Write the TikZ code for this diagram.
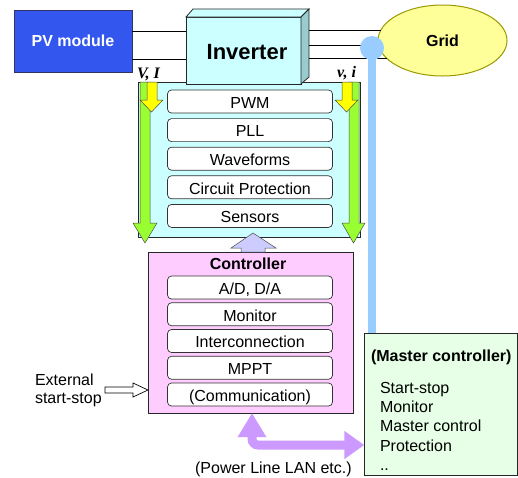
\documentclass[tikz,border=0pt]{standalone}
\usepackage{fontspec}
\setmainfont{Liberation Sans}
\newfontfamily\lserif{Liberation Serif}
\usetikzlibrary{arrows.meta,shapes.geometric}
\definecolor{pvblue}{HTML}{3357EE}
\definecolor{pvborder}{HTML}{333366}
\definecolor{cyanbg}{HTML}{CCFFFF}
\definecolor{cyanside}{HTML}{99CCCC}
\definecolor{gridfill}{HTML}{FFFF99}
\definecolor{gridborder}{HTML}{999900}
\definecolor{bluel}{HTML}{99CCFF}
\definecolor{greenarr}{HTML}{99FF33}
\definecolor{yellarr}{HTML}{FFFF00}
\definecolor{lav}{HTML}{CCCCFF}
\definecolor{pinkbg}{HTML}{FFCCFF}
\definecolor{greenbg}{HTML}{E6FFE6}
\definecolor{purp}{HTML}{CC99FF}
\begin{document}
\begin{tikzpicture}[x=1pt,y=-1pt,
  every node/.style={inner sep=0pt, outer sep=0pt},
  font=\fontsize{16}{19}\selectfont,
  line width=0.8pt,
  item/.style={draw=black!80, line width=0.7pt, rounded corners=4pt, fill=white,
    minimum width=165pt, minimum height=23pt, text height=13.5pt, text depth=0pt},
  panel/.style={draw=black!85, line width=0.8pt},
  bold/.style={font=\fontsize{16}{19}\selectfont\bfseries},
  arrowpoly/.style={draw=black!70, line width=0.5pt},
  lbl/.style={font=\fontsize{16}{19}\selectfont\lserif\bfseries\itshape, anchor=base west}
]
\useasboundingbox (0,0) rectangle (518,477);

% signal panel
\node[panel, fill=cyanbg, minimum width=222pt, minimum height=155pt] (sig) at (249,159.5) {};

% PV module
\node[draw=pvborder, line width=1pt, fill=pvblue, minimum width=118pt, minimum height=62pt,
      text=white, bold] (pv) at (73,41) {PV module};

% Inverter (3D box)
\node[panel, fill=cyanbg, minimum width=115pt, minimum height=67pt] (inv) at (243.5,50.5) {};
\draw[panel, fill=cyanbg] (inv.north west) -- (193,9) -- (309,9) -- (inv.north east) -- cycle;
\draw[panel, fill=cyanside] (inv.north east) -- (309,9) -- (309,77) -- (inv.south east) -- cycle;
\node[anchor=base, font=\fontsize{22}{26}\selectfont\bfseries] (invt) at (247,59.3) {Inverter};

% PV -> inverter lines
\draw (pv.east |- 0,31) -- (inv.west |- 0,31);
\draw (pv.east |- 0,59) -- (inv.west |- 0,59);

% Grid
\node[ellipse, draw=gridborder, line width=1pt, fill=gridfill, minimum width=129pt, minimum height=71pt,
      bold] (grid) at (442.5,40.5) {Grid};
\coordinate (invr) at (309,45);
\draw (invr |- grid.171.3) -- (grid.171.3);
\draw (invr |- grid.184) -- (grid.184);
\draw (invr |- grid.198.6) -- (grid.198.6);

% master controller link
\node[circle, fill=bluel, minimum size=24pt] (dot) at (372,48) {};

% Master controller
\node[panel, fill=greenbg, minimum width=153pt, minimum height=142pt] (mst) at (440.75,404) {};
\draw[line width=8.5pt, bluel] (dot.center) -- (dot.center |- mst.north);
\node[bold, anchor=base west] (mt) at (371,361) {(Master controller)};
\node[anchor=base west] (m1) at (380,393) {Start-stop};
\node[anchor=base west] (m2) at (380,412) {Monitor};
\node[anchor=base west] (m3) at (380,431.5) {Master control};
\node[anchor=base west] (m4) at (380,451) {Protection};
\node[anchor=base west] (m5) at (380,470) {..};

% green / yellow arrows
\draw[arrowpoly, fill=greenarr] (140,82) -- (150,82) -- (150,223) -- (157,223) -- (145,243) -- (133,223) -- (140,223) -- cycle;
\draw[arrowpoly, fill=yellarr] (147,82) -- (157,82) -- (157,100) -- (163,100) -- (151.5,112) -- (140,100) -- (147,100) -- cycle;
\draw[arrowpoly, fill=greenarr] (349,82) -- (359,82) -- (359,223) -- (365,223) -- (353.5,243) -- (342,223) -- (349,223) -- cycle;
\draw[arrowpoly, fill=yellarr] (342,82) -- (352,82) -- (352,100) -- (358,100) -- (346.5,112) -- (335,100) -- (342,100) -- cycle;
\node[lbl] (vi1) at (137,78.5) {V, I};
\node[lbl] (vi2) at (337,77.5) {v, i};

% signal items
\node[item] (pwm) at (250,101.5) {PWM};
\node[item] (pll) at (250,130.1) {PLL};
\node[item] (wav) at (250,158.7) {Waveforms};
\node[item] (cpr) at (250,187.3) {Circuit Protection};
\node[item] (sen) at (250,215.9) {Sensors};

% Controller
\node[panel, fill=pinkbg, minimum width=205pt, minimum height=161pt] (ctrl) at (250.5,332.5) {};
\draw[arrowpoly, fill=lav] (253,233) -- (276,248) -- (265,248) -- (265,252) -- (241,252) -- (241,248) -- (231,248) -- cycle;
\node[bold, anchor=base] (ct) at (248,269.3) {Controller};
\node[item] (ad) at (250,287.5) {A/D, D/A};
\node[item] (mon) at (250,314.25) {Monitor};
\node[item] (icn) at (250,341) {Interconnection};
\node[item] (mppt) at (250,367.75) {MPPT};
\node[item] (com) at (250,394.5) {(Communication)};

% external start-stop
\node[anchor=base west] (ext1) at (35,385) {External};
\node[anchor=base west] (ext2) at (35,403) {start-stop};
\coordinate (tip) at (ctrl.west |- 0,390);
\draw[line width=0.7pt, fill=white] (105,387) -- (133,387) -- (133,383) -- (tip) -- (133,397) -- (133,393) -- (105,393) -- cycle;

% power line LAN arrow
\coordinate (pa) at (ctrl.south -| 252,0);
\coordinate (pb) at (mst.west |- 0,445);
\draw[purp, line width=9pt, rounded corners=6pt,
  {Triangle[width=27pt,length=24pt]}-{Triangle[width=27pt,length=20pt]}]
  (pa) -- (pa |- pb) -- (pb);
\node[anchor=base] (plc) at (273.4,473.3) {(Power Line LAN etc.)};
\end{tikzpicture}
\end{document}
